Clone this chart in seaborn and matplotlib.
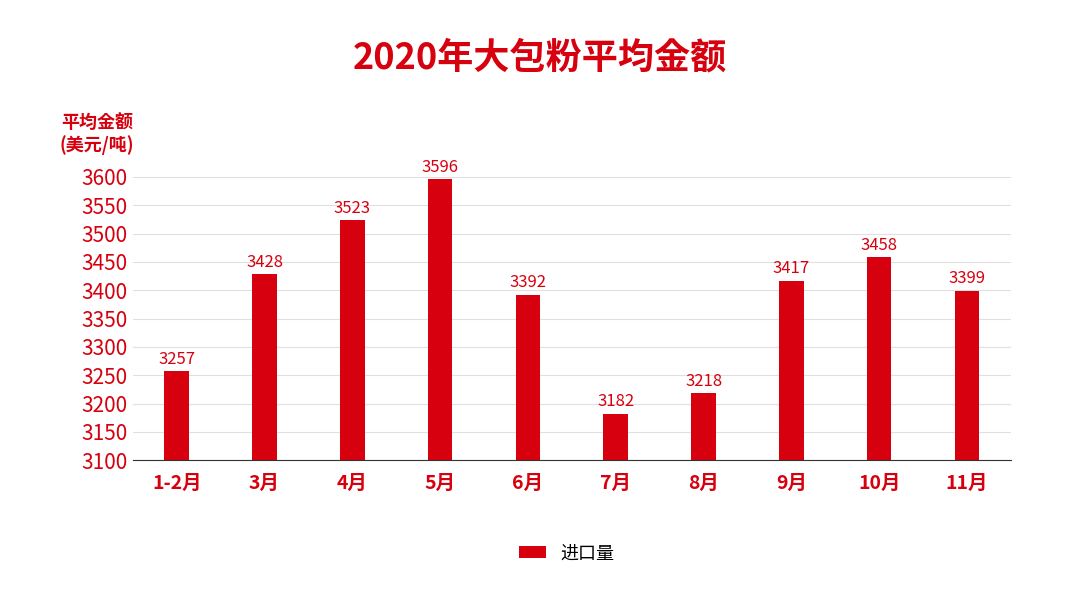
import matplotlib
matplotlib.use("Agg")
import matplotlib.pyplot as plt
import seaborn as sns
import pandas as pd

months = ["1-2月", "3月", "4月", "5月", "6月", "7月", "8月", "9月", "10月", "11月"]
values = [3257, 3428, 3523, 3596, 3392, 3182, 3218, 3417, 3458, 3399]
yticks = list(range(3100, 3601, 50))

RED = "#d7000f"
plt.rcParams["font.family"] = ["Noto Sans CJK SC", "Noto Sans CJK JP", "DejaVu Sans"]
plt.rcParams["font.sans-serif"] = ["Noto Sans CJK SC", "Noto Sans CJK JP", "DejaVu Sans"]
df = pd.DataFrame({"month": months, "value": values})

fig = plt.figure(figsize=(10.8, 6.08), dpi=100)
ax = fig.add_axes([0.123, 0.243, 0.813, 0.468])
sns.barplot(data=df, x="month", y="value", color=RED, width=0.28, ax=ax,
            saturation=1, label="进口量")
ax.set_ylim(3100, 3602)
ax.set_yticks(yticks)
ax.set_yticklabels([str(t) for t in yticks], color=RED, fontsize=15)
ax.tick_params(axis="x", colors=RED, labelsize=14, length=0, pad=10)
ax.tick_params(axis="y", length=0)
for lab in ax.get_xticklabels():
    lab.set_fontweight("bold")
ax.grid(axis="y", color="#e0e0e0", linewidth=0.8)
ax.set_axisbelow(True)
for s in ["top", "right", "left"]:
    ax.spines[s].set_visible(False)
ax.spines["bottom"].set_color("#333333")
ax.set_xlabel("")
ax.set_ylabel("")
for i, v in enumerate(values):
    ax.text(i, v + 6, str(v), ha="center", va="bottom", color=RED, fontsize=12)
fig.text(0.5, 0.905, "2020年大包粉平均金额", ha="center", va="center",
         color=RED, fontsize=26, fontweight="bold")
fig.text(0.09, 0.78, "平均金额\n(美元/吨)", ha="center", va="center",
         color=RED, fontsize=13, fontweight="bold", linespacing=1.2)
ax.get_legend().remove() if ax.get_legend() else None
h, l = ax.get_legend_handles_labels()
fig.legend(h, l, loc="center", bbox_to_anchor=(0.525, 0.09), frameon=False,
           fontsize=13, handlelength=1.5, handleheight=0.7)
fig.savefig("out.png", dpi=100)
